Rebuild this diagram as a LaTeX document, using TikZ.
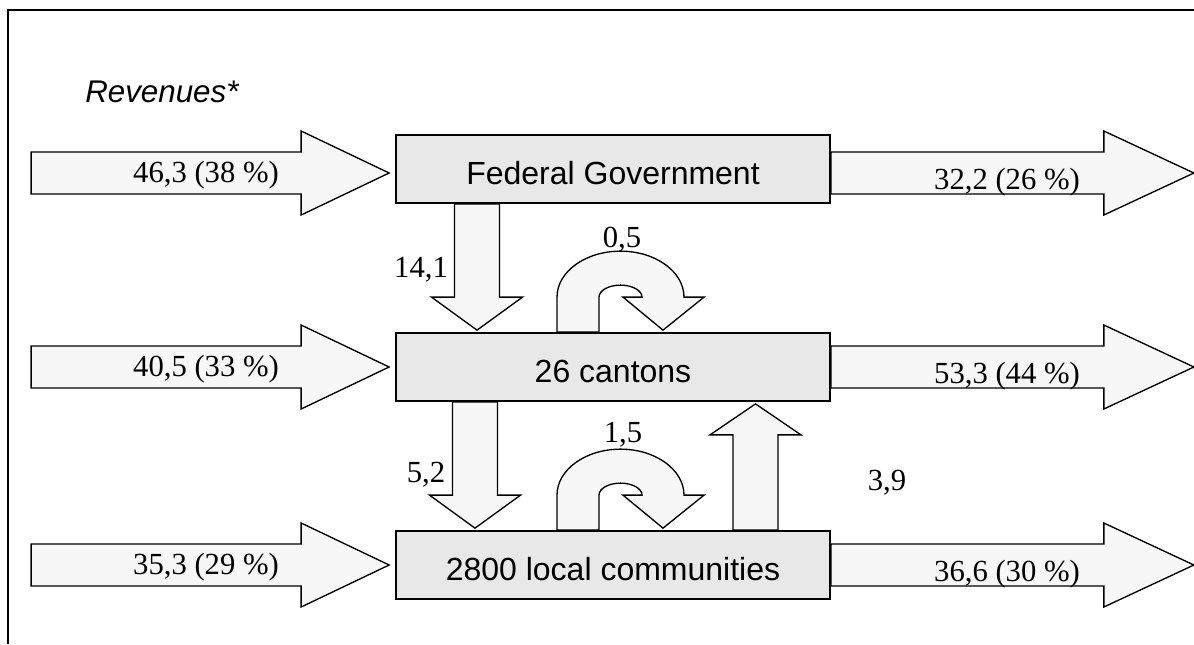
\documentclass[tikz,border=0pt]{standalone}
\usepackage{fontspec}
\setmainfont{Liberation Serif}
\setsansfont{Liberation Sans}
\usetikzlibrary{calc}
\definecolor{boxgray}{gray}{0.91}
\definecolor{arrowgray}{gray}{0.97}

\begin{document}
\begin{tikzpicture}[x=0.75pt,y=-0.75pt, % pixel units, y axis down
    level/.style={draw, line width=1.3pt, fill=boxgray, minimum width=325.5pt, minimum height=51pt,
      inner sep=0pt, text height=23pt, text depth=0pt, font=\sffamily\fontsize{24}{28}\selectfont},
    fat/.style={draw, line width=1pt, fill=arrowgray, line join=miter},
    flow/.style={font=\fontsize{23}{27}\selectfont, inner sep=0pt, anchor=base}]
  \useasboundingbox (0,0) rectangle (1194,644);
  \draw[line width=1.8pt] (8,644) -- (8,10) -- (1194,10); % frame

  \node[font=\sffamily\itshape\fontsize{23.5}{28}\selectfont, anchor=base west, inner sep=0pt] (rev) at (85,102) {Revenues*};

  % the three levels
  \node[level] (fed) at (613,169) {Federal Government};
  \node[level] (cant) at (613,367) {26 cantons};
  \node[level] (local) at (613,565) {2800 local communities};

  % revenues in, expenses out
  \foreach \n/\y/\inv/\outv in {fed/173/{46,3 (38 \%)}/{32,2 (26 \%)},
      cant/367/{40,5 (33 \%)}/{53,3 (44 \%)}, local/565/{35,3 (29 \%)}/{36,6 (30 \%)}}{
    \draw[fat] ($(\n.west |- 0,\y)+(-364,-21)$) -- ++(270,0) -- ++(0,-21)
      -- ($(\n.west |- 0,\y)+(-6,0)$) -- ++(-88,42) -- ++(0,-21) -- ++(-270,0) -- cycle;
    \draw[fat] ($(\n.east |- 0,\y)+(0,-21)$) -- ++(273,0) -- ++(0,-21) -- ++(90,42)
      -- ++(-90,42) -- ++(0,-21) -- ($(\n.east |- 0,\y)+(0,21)$) -- cycle;
    \node[flow] (in\n) at (206,\y+9) {\inv};
    \node[flow] (out\n) at (1007,\y+16) {\outv};
  }

  % transfers downwards
  \foreach \a/\b/\x in {fed/cant/477, cant/local/475}
    \draw[fat] ($(\a.south -| \x,0)+(-22.5,0)$) -- ($(\b.north -| \x,0)+(-22.5,-35)$) -- ++(-23,0)
      -- ($(\b.north -| \x,0)+(0,-2)$) -- ++(45.5,-33) -- ++(-23,0) -- ($(\a.south -| \x,0)+(22.5,0)$) -- cycle;

  % transfer upwards
  \draw[fat] ($(local.north -| 755.5,0)+(-22.5,0)$) -- ($(cant.south -| 755.5,0)+(-22.5,33)$) -- ++(-23,0)
    -- ($(cant.south -| 755.5,0)+(0,2)$) -- ++(45.5,31) -- ++(-23,0) -- ($(local.north -| 755.5,0)+(22.5,0)$) -- cycle;

  % transfers within a level
  \foreach \b in {cant, local}
    \draw[fat] ($(\b.north)+(-56,0)$) -- ++(0,-35) arc[start angle=180, end angle=360, x radius=63.5, y radius=46]
      -- ++(20,0) -- ($(\b.north)+(50,-2)$) -- ++(-40,-33) -- ++(19,0)
      arc[start angle=0, end angle=-180, x radius=21.5, y radius=12] -- ($(\b.north)+(-14,0)$) -- cycle;

  \node[flow] (fc) at (421,277) {14,1};
  \node[flow] (cl) at (426,482) {5,2};
  \node[flow] (cc) at (622,247) {0,5};
  \node[flow] (ll) at (623,442) {1,5};
  \node[flow] (lc) at (887,490) {3,9};
\end{tikzpicture}
\end{document}
